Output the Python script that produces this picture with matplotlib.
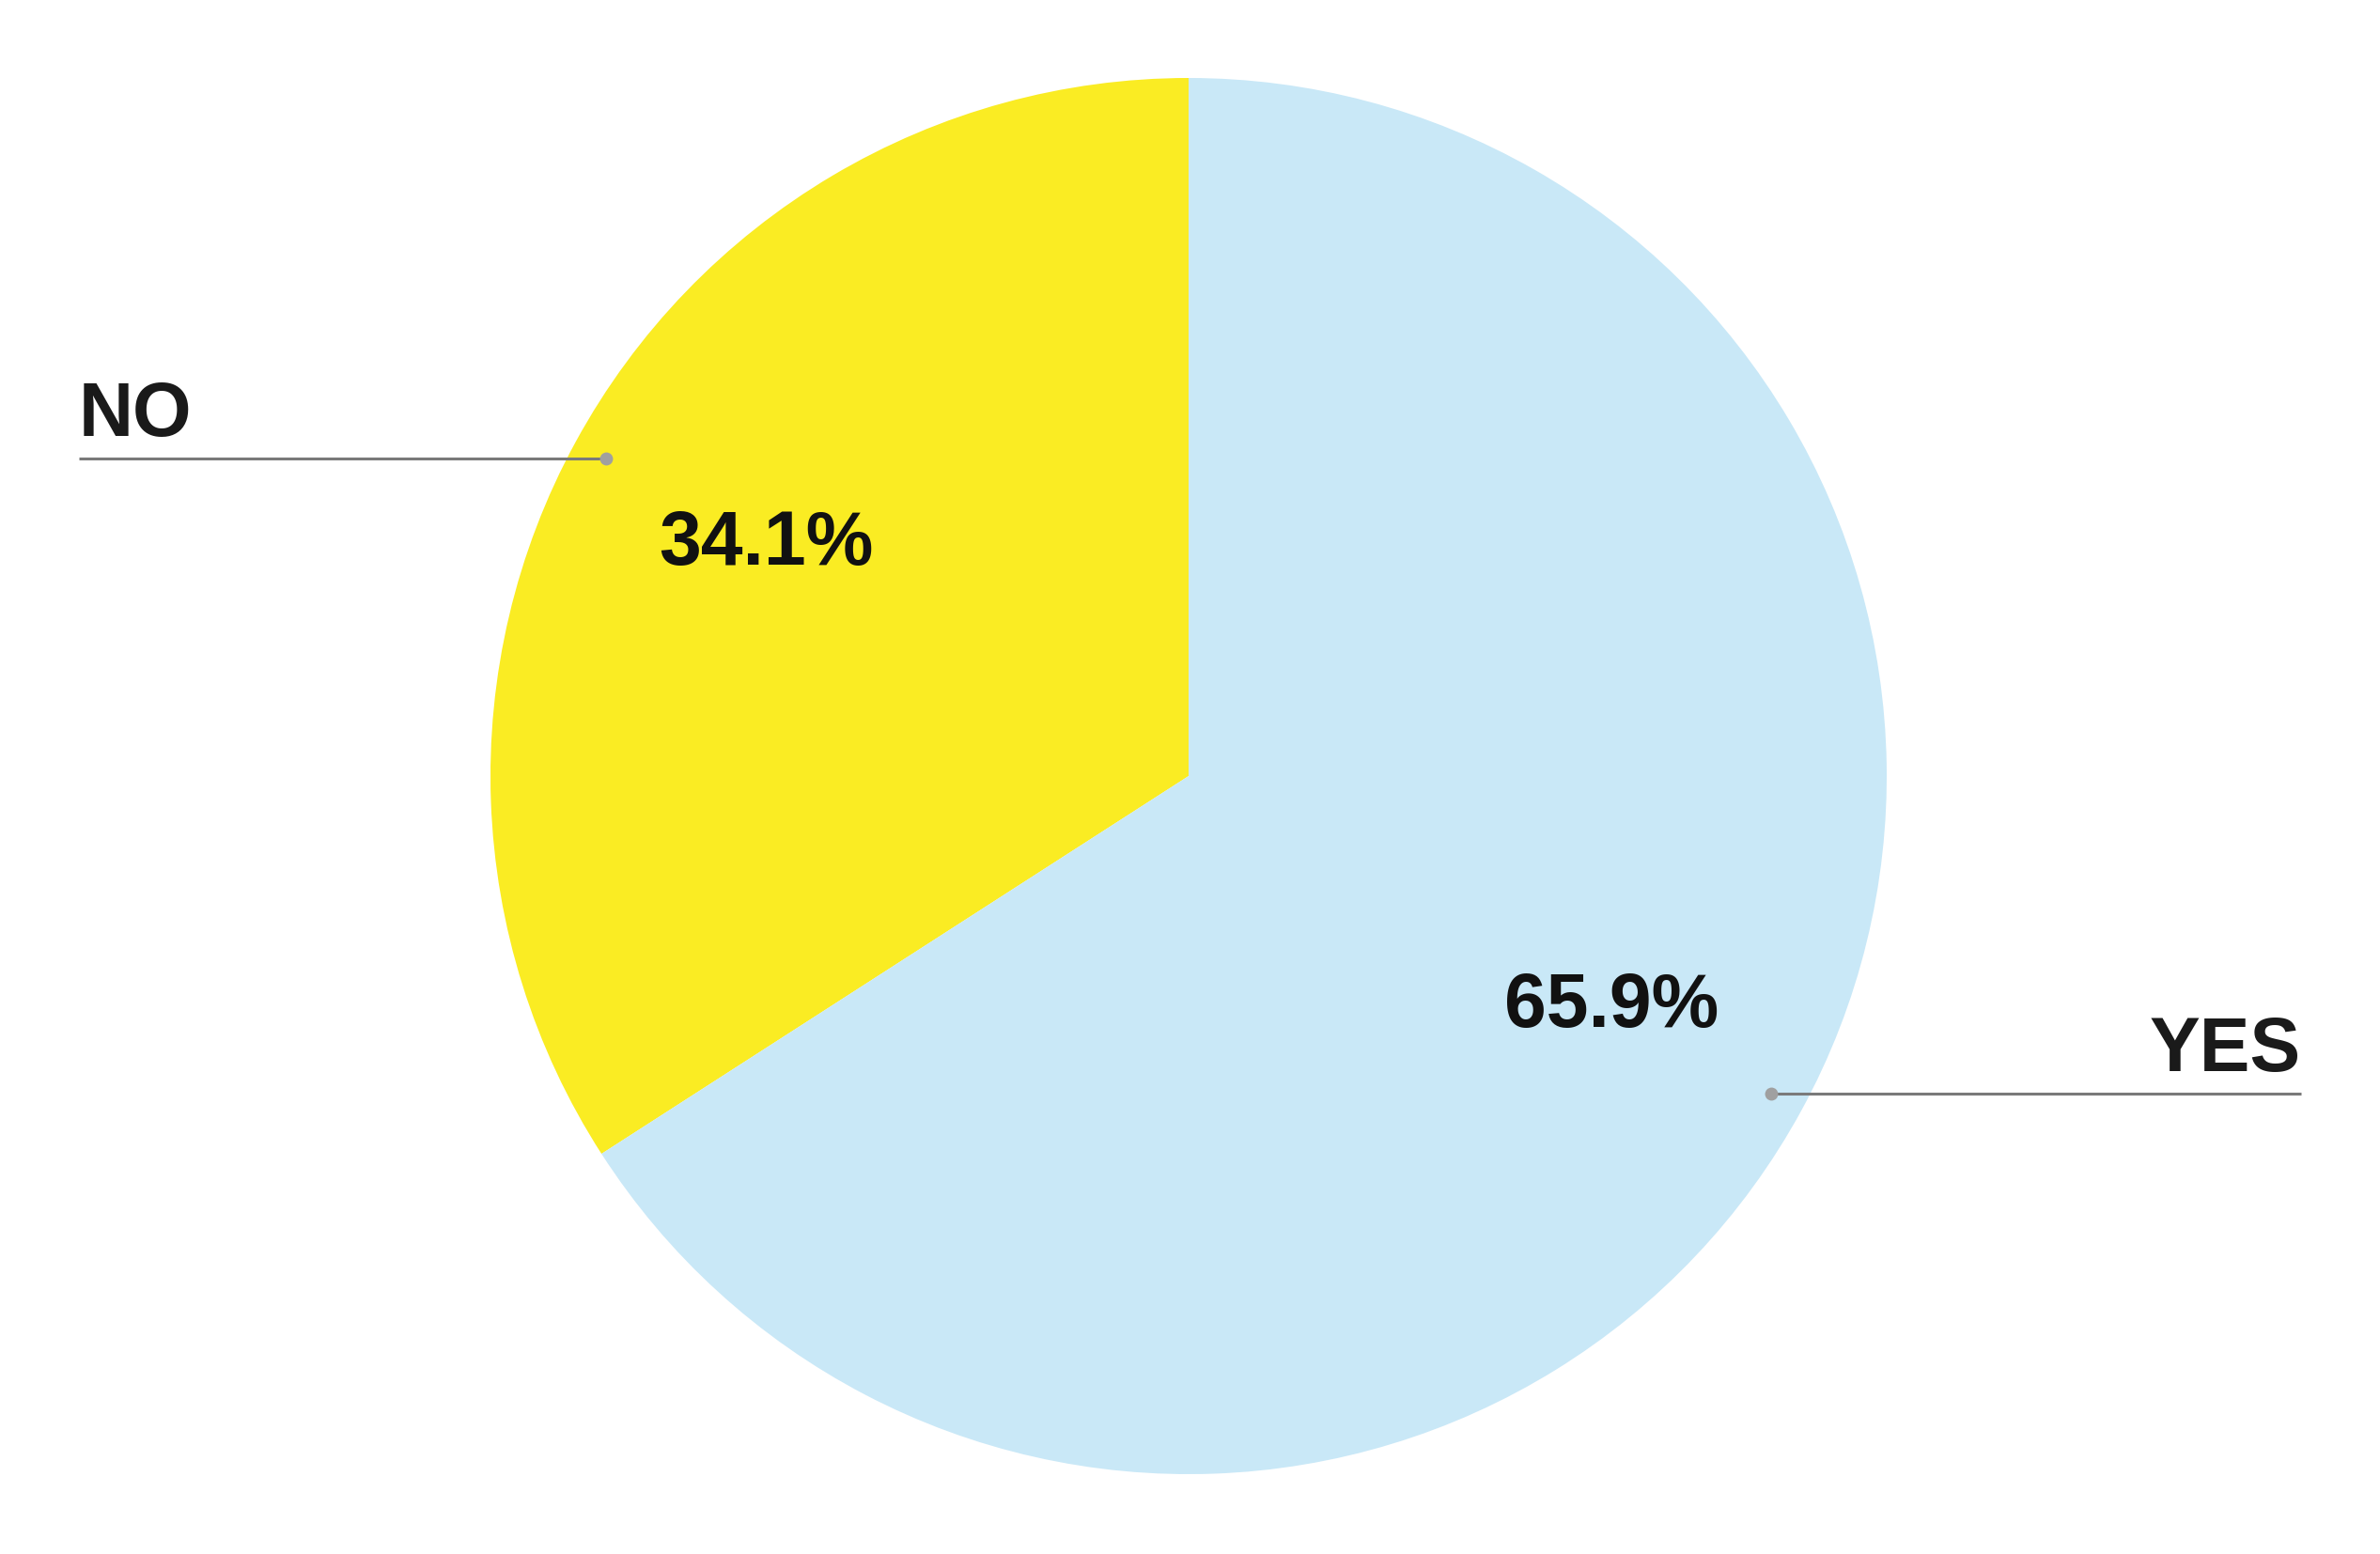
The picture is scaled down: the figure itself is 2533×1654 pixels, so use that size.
import numpy as np
import matplotlib
matplotlib.use("Agg")
import matplotlib.pyplot as plt

categories = ["NO", "YES"]
values = [34.1, 65.9]
colors = ["#FAEC23", "#C9E8F7"]

W, H = 2533, 1654
fig = plt.figure(figsize=(W / 100, H / 100), dpi=100)
ax = fig.add_axes([0, 0, 1, 1])

cx, cy, R = 1265, 828, 743
wedges, texts, autotexts = ax.pie(
    values, colors=colors, startangle=90, counterclock=True,
    center=(cx, cy), radius=R, autopct="%.1f%%", pctdistance=0.69,
    wedgeprops=dict(linewidth=0), frame=True,
    textprops=dict(fontsize=58, fontweight="bold", family="Liberation Sans", color="#111111"),
)
ax.set_xlim(0, W)
ax.set_ylim(0, H)
ax.set_aspect("equal")
ax.axis("off")

label_x = {"NO": 84, "YES": 2449}
for w, name in zip(wedges, categories):
    ang = np.deg2rad((w.theta1 + w.theta2) / 2)
    px = cx + 0.95 * R * np.cos(ang)
    py = cy + 0.95 * R * np.sin(ang)
    lx = label_x[name]
    ax.plot([px, lx], [py, py], color="#7a7a7a", lw=2.2, solid_capstyle="butt", zorder=3)
    ax.plot([px], [py], "o", color="#a0a0a0", ms=10, mec="none", zorder=4)
    ha = "left" if np.cos(ang) < 0 else "right"
    ax.text(lx, py + 24, name, ha=ha, va="baseline", fontsize=58, fontweight="bold",
            family="Liberation Sans", color="#1a1a1a")

fig.savefig("out.png", dpi=100, facecolor="white")
